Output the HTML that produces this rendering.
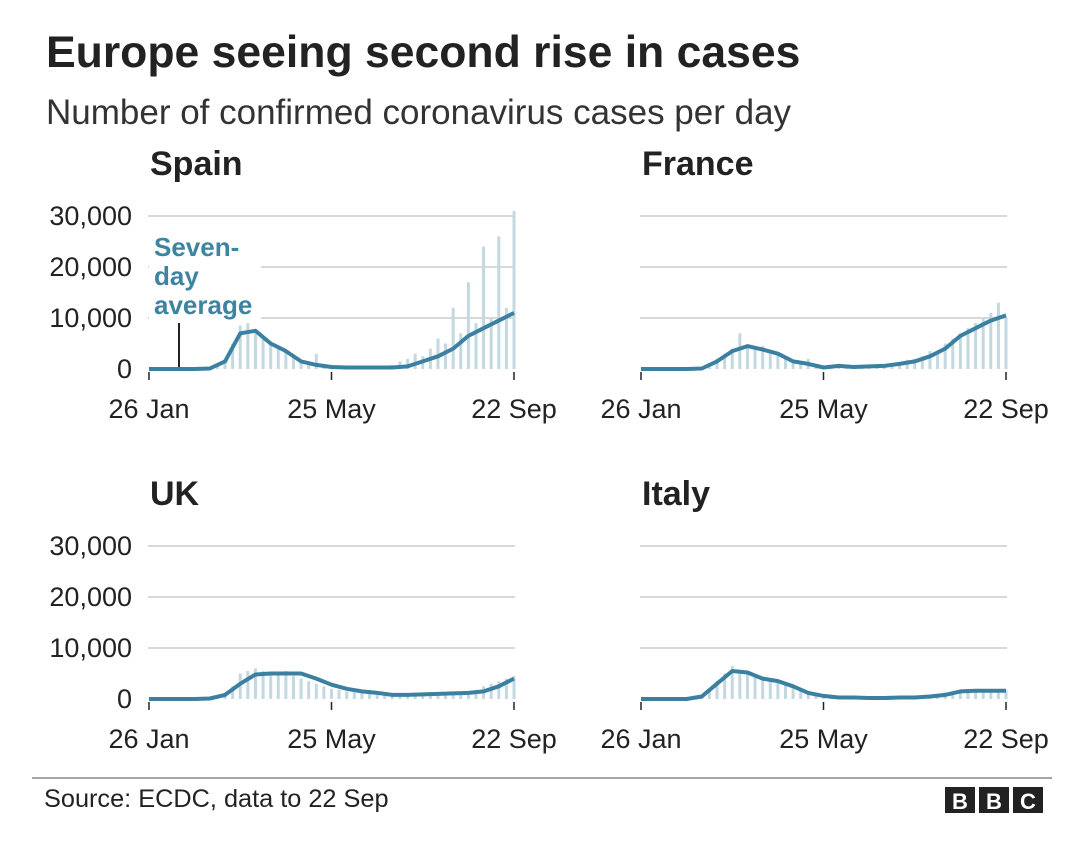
<!DOCTYPE html>
<html><head><meta charset="utf-8"><style>
body{margin:0;background:#fff;width:1080px;height:838px;overflow:hidden;font-family:"Liberation Sans",Arial,sans-serif}
svg text{font-family:"Liberation Sans",Arial,sans-serif}
</style></head><body>
<svg id="chart" width="1080" height="838">
<text x="46" y="67" font-size="44.5" font-weight="bold" fill="#222">Europe seeing second rise in cases</text>
<text x="46" y="124" font-size="35" fill="#333">Number of confirmed coronavirus cases per day</text>
<line x1="32" y1="778" x2="1052" y2="778" stroke="#888" stroke-width="1.5"/>
<text x="44" y="807" font-size="25.3" fill="#222">Source: ECDC, data to 22 Sep</text>
<g>
<rect x="945" y="787" width="30" height="26" fill="#222"/><text x="960" y="809" font-size="22" font-weight="bold" fill="#fff" text-anchor="middle">B</text>
<rect x="979" y="787" width="30" height="26" fill="#222"/><text x="994" y="809" font-size="22" font-weight="bold" fill="#fff" text-anchor="middle">B</text>
<rect x="1013" y="787" width="30" height="26" fill="#222"/><text x="1028" y="809" font-size="22" font-weight="bold" fill="#fff" text-anchor="middle">C</text>
</g>
<g id="panels"></g>
</svg>
<script>
const countries = ["Spain","France","UK","Italy"];
const yTicks = [0,10000,20000,30000];
const yTickLabels = ["0","10,000","20,000","30,000"];
const xTickDays = [0,120,240];
const xTickLabels = ["26 Jan","25 May","22 Sep"];
// seven-day averages (thousands), every 10 days from 26 Jan
const spainAvg = [0,0,0,0,0.1,1.5,7,7.5,5,3.5,1.5,0.8,0.4,0.3,0.3,0.3,0.3,0.5,1.5,2.5,4,6.5,8,9.5,11];
const franceAvg = [0,0,0,0,0.1,1.5,3.5,4.5,3.8,3,1.5,1,0.3,0.6,0.4,0.5,0.6,1,1.5,2.5,4,6.5,8,9.5,10.5];
const ukAvg = [0,0,0,0,0.1,0.8,3,4.8,5,5,5,4,2.8,2,1.5,1.2,0.8,0.8,0.9,1,1.1,1.2,1.5,2.5,4];
const italyAvg = [0,0,0,0,0.5,3,5.5,5.2,4,3.5,2.5,1.2,0.6,0.3,0.3,0.2,0.2,0.3,0.3,0.5,0.8,1.5,1.6,1.6,1.6];
// daily reported (thousands), every 5 days
const spainBars = [0,0,0,0,0,0,0,0,0.1,0.5,2,5,8.5,9,7,6,5,4,3.5,2.5,1.5,1,3,0.5,0.5,0.5,0.3,0.3,0.3,0.3,0.4,0.5,0.8,1.5,2,3,2.5,4,6,5,12,7,17,9,24,10,26,12,31];
const franceBars = [0,0,0,0,0,0,0,0,0.1,0.5,2,3,4,7,4.5,4,4.5,3.5,3,2,1.5,1,2,0.5,0.3,0.5,1,0.4,0.5,0.5,0.6,0.7,0.8,1,1.2,1.8,2,2.5,3.5,3.5,5,6,7,8,9,10,11,13,10];
const ukBars = [0,0,0,0,0,0,0,0,0.1,0.3,1,2.5,5,5.5,6,5.5,5,5,5.5,4.5,4,3.5,3,2.5,2,1.8,1.5,1.3,1.2,1,0.8,0.8,0.8,0.9,0.9,1,1,1.1,1.2,1.2,1.3,1.4,1.5,1.8,2.5,3,3.5,4,4.5];
const italyBars = [0,0,0,0,0,0,0,0.2,0.8,2,3.5,5,6.5,5.5,5,4.5,4,3.5,3.5,3,2.5,2,1.5,1,0.7,0.5,0.4,0.3,0.3,0.3,0.2,0.2,0.3,0.3,0.3,0.4,0.4,0.5,0.8,1,1.3,1.5,1.6,1.7,1.6,1.6,1.7,1.6,1.7];
const avgs = [spainAvg,franceAvg,ukAvg,italyAvg];
const bars = [spainBars,franceBars,ukBars,italyBars];
const origins = [[149,369],[641,369],[149,699],[641,699]];
const NS = "http://www.w3.org/2000/svg";
const root = document.getElementById("panels");
function mk(tag, attrs, parent){const e=document.createElementNS(NS,tag);for(const k in attrs)e.setAttribute(k,attrs[k]);parent.appendChild(e);return e;}
countries.forEach((c,ci)=>{
  const [ox,oy]=origins[ci];
  const W=365, H=153;
  const xS=d=>ox+d/240*W;
  const yS=v=>oy-v/30000*H;
  const g=mk("g",{},root);
  
  
  const t=mk("text",{x:ox+1,y:oy-194,"font-size":34,"font-weight":"bold",fill:"#222"},g);
  t.textContent=c;
  
  
  yTicks.forEach((v,i)=>{
    if(v>0){const l=mk("line",{x1:ox-1,x2:ox+W+1,y1:yS(v),y2:yS(v),stroke:"#ccc","stroke-width":1.5},g);
    
    }
    if(ci%2===0){const tl=mk("text",{x:ox-17,y:yS(v)+9,"font-size":27,fill:"#222","text-anchor":"end"},g);
    tl.textContent=yTickLabels[i];
    
    }
  });
  const bs=bars[ci];
  bs.forEach((v,i)=>{
    const d=i*240/(bs.length-1);
    const b=mk("rect",{x:xS(d)-1.5,y:yS(v*1000),width:3,height:oy-yS(v*1000),fill:"#c3d8e1"},g);
    
    
  });
  if(ci===0){
    const lb=mk("rect",{x:ox,y:228,width:112,height:95,fill:"#fff"},g);
    
    
    ["Seven-","day","average"].forEach((s,i)=>{
      const a=mk("text",{x:ox+5,y:256+i*29,"font-size":26,"font-weight":"bold",fill:"#3d84a0"},g);
      a.textContent=s;
      
      
    });
    const al=mk("line",{x1:179,x2:179,y1:323,y2:368,stroke:"#222","stroke-width":2},g);
    
    
  }
  const a=avgs[ci];
  const pts=a.map((v,i)=>xS(i*10).toFixed(1)+","+yS(v*1000).toFixed(1)).join(" ");
  const pl=mk("polyline",{points:pts,fill:"none",stroke:"#3b80a0","stroke-width":4,"stroke-linejoin":"round"},g);
  
  
  xTickDays.forEach((d,i)=>{
    const tk=mk("line",{x1:xS(d),x2:xS(d),y1:oy+3,y2:oy+11,stroke:"#222","stroke-width":1.5},g);
    
    
    const tl=mk("text",{x:xS(d),y:oy+49,"font-size":27,fill:"#222","text-anchor":"middle"},g);
    tl.textContent=xTickLabels[i];
    
    
  });
});
</script>
</body></html>
